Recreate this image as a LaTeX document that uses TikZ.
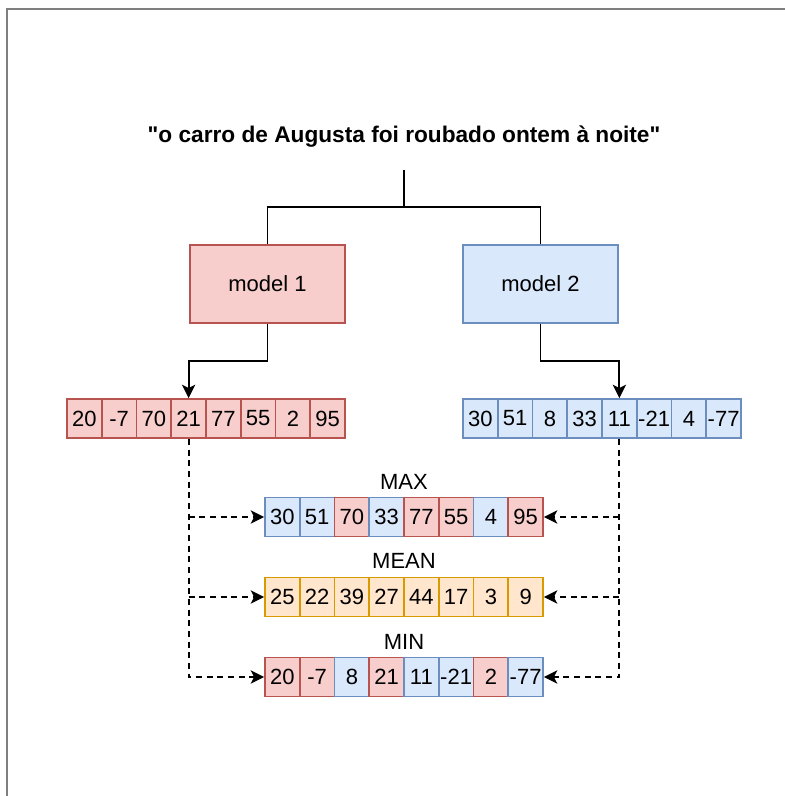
\documentclass[tikz,border=0pt]{standalone}
\usepackage{fontspec}
\setmainfont{Liberation Sans}
\usetikzlibrary{arrows.meta,positioning}
\definecolor{ink}{HTML}{000000}
\definecolor{framec}{HTML}{7F7F7F}
\definecolor{redfill}{HTML}{F8CECC}
\definecolor{redline}{HTML}{B85450}
\definecolor{bluefill}{HTML}{DAE8FC}
\definecolor{blueline}{HTML}{6C8EBF}
\definecolor{orfill}{HTML}{FFE6CC}
\definecolor{orline}{HTML}{D79B00}
\tikzset{
  txt/.style={font=\fontsize{16.5}{19}\selectfont,text=ink,inner sep=0pt,align=center},
  title/.style={txt,font=\fontsize{17}{19}\selectfont\bfseries,minimum height=49.5pt},
  model/.style={txt,line width=1.4pt,minimum width=116.25pt,minimum height=58.5pt},
  modelr/.style={model,draw=redline,fill=redfill},
  modelb/.style={model,draw=blueline,fill=bluefill},
  cell/.style={txt,line width=1.4pt,minimum width=26.06pt,minimum height=29.25pt},
  cellr/.style={cell,draw=redline,fill=redfill},
  cellb/.style={cell,draw=blueline,fill=bluefill},
  cello/.style={cell,draw=orline,fill=orfill},
  ln/.style={draw=ink,line width=1.4pt},
  ar/.style={-{Stealth[length=10pt,width=10pt,inset=2.5pt]},draw=ink,line width=1.4pt},
  dar/.style={ar,dash pattern=on 4.5pt off 3.5pt},
}
\begin{document}
\begin{tikzpicture}[x=0.75pt,y=-0.75pt]
  \useasboundingbox (0,0) rectangle (785,796);
  \draw[framec,line width=1.5pt] (6.5,8.5) rectangle (820,830);
  \node[title] (t) at (404,137) {\textquotedbl o carro de Augusta foi roubado ontem à noite\textquotedbl};
  \node[modelr] (m1) at (267.5,284) {model 1};
  \node[modelb] (m2) at (540.5,284) {model 2};
  \foreach \v [count=\i] in {20,-7,70,21,77,55,2,95} \node[cellr] (r\i) at ({67+34.75*(\i-0.5)},418.5) {\v};
  \foreach \v [count=\i] in {30,51,8,33,11,-21,4,-77} \node[cellb] (b\i) at ({463+34.75*(\i-0.5)},418.5) {\v};
  \foreach \v/\c [count=\i] in {30/b,51/b,70/r,33/b,77/r,55/r,4/b,95/r} \node[cell\c] (mx\i) at ({265+34.75*(\i-0.5)},517) {\v};
  \foreach \v [count=\i] in {25,22,39,27,44,17,3,9} \node[cello] (me\i) at ({265+34.75*(\i-0.5)},597) {\v};
  \foreach \v/\c [count=\i] in {20/r,-7/r,8/b,21/r,11/b,-21/b,2/r,-77/b} \node[cell\c] (mn\i) at ({265+34.75*(\i-0.5)},677) {\v};
  \node[txt] (lmax) at (404,482) {MAX};
  \node[txt] (lmean) at (404,561) {MEAN};
  \node[txt] (lmin) at (404,642) {MIN};
  \draw[ln] (t.south) -- ++(0,37) coordinate (split);
  \draw[ln] (split) -| (m1.north);
  \draw[ln] (split) -| (m2.north);
  \draw[ar] (m1.south) -- ++(0,37) -| (r4.north);
  \draw[ar] (m2.south) -- ++(0,37) -| (b5.north);
  \draw[dar] (r4.south) |- (mn1.west);
  \draw[dar] (r4.south |- mx1.west) -- (mx1.west);
  \draw[dar] (r4.south |- me1.west) -- (me1.west);
  \draw[dar] (b5.south) |- (mn8.east);
  \draw[dar] (b5.south |- mx8.east) -- (mx8.east);
  \draw[dar] (b5.south |- me8.east) -- (me8.east);
\end{tikzpicture}
\end{document}
